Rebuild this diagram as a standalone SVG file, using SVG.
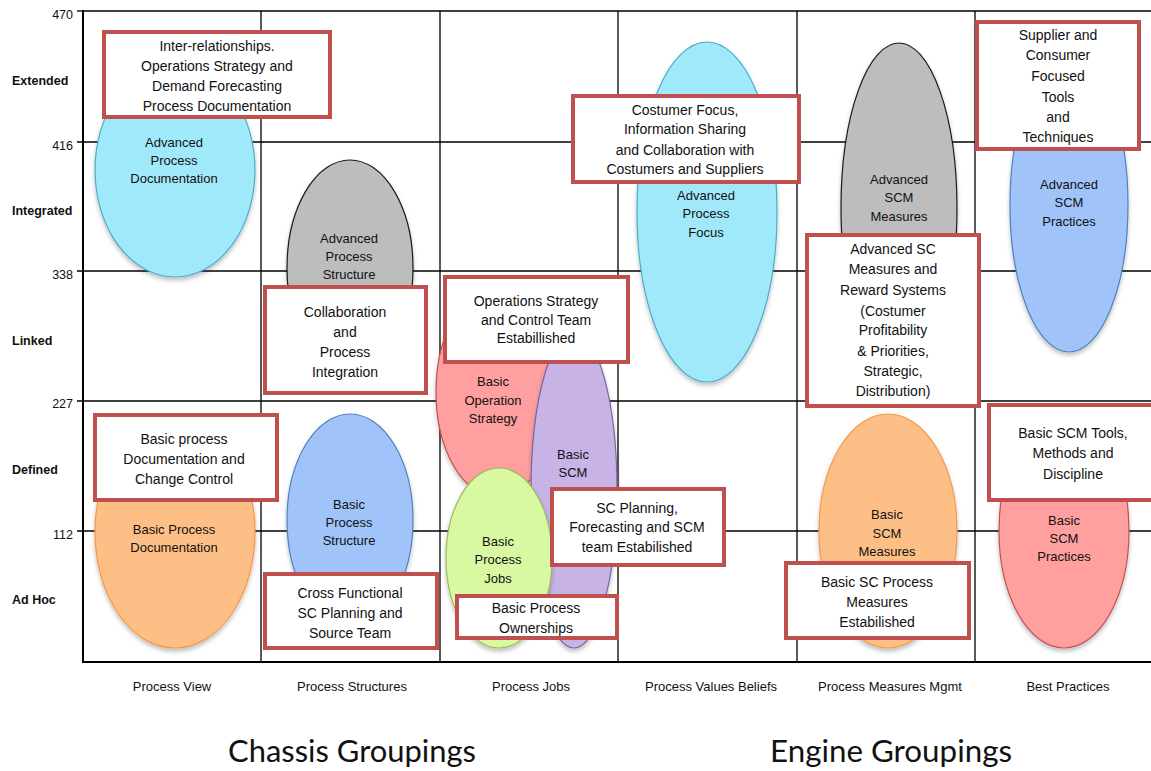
<svg xmlns="http://www.w3.org/2000/svg" width="1151" height="771" viewBox="0 0 1151 771">
<style>
  text { font-family: "Liberation Sans", Arial, sans-serif; fill: #111; text-anchor: middle; dominant-baseline: central; }
  .grid { stroke: #000; stroke-width: 1.3; fill: none; }
  .axis { stroke: #000; stroke-width: 2; fill: none; }
  .num { font-size: 12.5px; text-anchor: end; }
  .row { font-size: 12.5px; font-weight: bold; text-anchor: start; }
  .col { font-size: 13px; }
  .el { font-size: 13px; }
  .bx { font-size: 14px; }
  .box { fill: #fff; stroke: #C0504D; stroke-width: 4; }
  .cyan { fill: #A0E9FB; stroke: #4BACC6; stroke-width: 1.2; filter: url(#sh); }
  .gray { fill: #BDBDBD; stroke: #1a1a1a; stroke-width: 1.2; filter: url(#sh); }
  .orange { fill: #FDBF85; stroke: #F79646; stroke-width: 1.2; filter: url(#sh); }
  .blue { fill: #A0C3F9; stroke: #4F81BD; stroke-width: 1.2; filter: url(#sh); }
  .pink { fill: #FF9F9F; stroke: #C0504D; stroke-width: 1.2; filter: url(#sh); }
  .purple { fill: #C7B3E6; stroke: #8064A2; stroke-width: 1.2; filter: url(#sh); }
  .green { fill: #D8F8A2; stroke: #9BBB59; stroke-width: 1.2; filter: url(#sh); }
  .big { font-family: Lato, "Liberation Sans", sans-serif; font-size: 31px; text-anchor: start; dominant-baseline: alphabetic; }
</style>
<defs>
  <filter id="sh" x="-20%" y="-20%" width="140%" height="140%">
    <feDropShadow dx="0" dy="3" stdDeviation="2" flood-color="#000" flood-opacity="0.25"/>
  </filter>
</defs>
<rect width="1151" height="771" fill="#fff"/>

<g id="grid">
  <line class="grid" x1="83" y1="11" x2="1151" y2="11"/>
  <line class="grid" x1="77" y1="142" x2="1151" y2="142"/>
  <line class="grid" x1="77" y1="271" x2="1151" y2="271"/>
  <line class="grid" x1="77" y1="401" x2="1151" y2="401"/>
  <line class="grid" x1="77" y1="531" x2="1151" y2="531"/>
  <line class="grid" x1="77" y1="11" x2="83" y2="11"/>
  <line class="grid" x1="261" y1="11" x2="261" y2="662"/>
  <line class="grid" x1="440" y1="11" x2="440" y2="662"/>
  <line class="grid" x1="618" y1="11" x2="618" y2="662"/>
  <line class="grid" x1="797" y1="11" x2="797" y2="662"/>
  <line class="grid" x1="975" y1="11" x2="975" y2="662"/>
  <line class="axis" x1="83" y1="10" x2="83" y2="662"/>
  <line class="axis" x1="82" y1="662" x2="1151" y2="662"/>
</g>

<g id="axis-labels">
  <text class="num" x="73" y="15">470</text>
  <text class="num" x="73" y="146">416</text>
  <text class="num" x="73" y="275">338</text>
  <text class="num" x="73" y="404">227</text>
  <text class="num" x="73" y="535">112</text>
  <text class="row" x="12" y="81">Extended</text>
  <text class="row" x="12" y="211">Integrated</text>
  <text class="row" x="12" y="341">Linked</text>
  <text class="row" x="12" y="470">Defined</text>
  <text class="row" x="12" y="600">Ad Hoc</text>
  <text class="col" x="172" y="686">Process View</text>
  <text class="col" x="352" y="686">Process Structures</text>
  <text class="col" x="531" y="686">Process Jobs</text>
  <text class="col" x="711" y="686">Process Values Beliefs</text>
  <text class="col" x="890" y="686">Process Measures Mgmt</text>
  <text class="col" x="1068" y="686">Best Practices</text>
</g>

<g id="adv-process-documentation">
  <ellipse class="cyan" cx="175" cy="170" rx="80" ry="107"/>
  <text class="el" x="174" y="142">Advanced</text>
  <text class="el" x="174" y="160">Process</text>
  <text class="el" x="174" y="178">Documentation</text>
</g>
<g id="adv-process-structure">
  <ellipse class="gray" cx="350" cy="268" rx="63" ry="108"/>
  <text class="el" x="349" y="238">Advanced</text>
  <text class="el" x="349" y="256">Process</text>
  <text class="el" x="349" y="274">Structure</text>
</g>
<g id="basic-process-documentation">
  <ellipse class="orange" cx="175" cy="532" rx="80" ry="116"/>
  <text class="el" x="174" y="529">Basic Process</text>
  <text class="el" x="174" y="547">Documentation</text>
</g>
<g id="basic-process-structure">
  <ellipse class="blue" cx="350" cy="520" rx="63" ry="106"/>
  <text class="el" x="349" y="504">Basic</text>
  <text class="el" x="349" y="522">Process</text>
  <text class="el" x="349" y="540">Structure</text>
</g>
<g id="basic-operation-strategy">
  <ellipse class="pink" cx="497" cy="392" rx="61" ry="105"/>
  <text class="el" x="493" y="381">Basic</text>
  <text class="el" x="493" y="400">Operation</text>
  <text class="el" x="493" y="418">Strategy</text>
</g>
<g id="basic-scm">
  <ellipse class="purple" cx="574" cy="490" rx="43" ry="158"/>
  <text class="el" x="573" y="454">Basic</text>
  <text class="el" x="573" y="472">SCM</text>
</g>
<g id="basic-process-jobs">
  <ellipse class="green" cx="499" cy="558" rx="53" ry="90"/>
  <text class="el" x="498" y="541">Basic</text>
  <text class="el" x="498" y="559">Process</text>
  <text class="el" x="498" y="578">Jobs</text>
</g>
<g id="adv-process-focus">
  <ellipse class="cyan" cx="707" cy="212" rx="70" ry="170"/>
  <text class="el" x="706" y="195">Advanced</text>
  <text class="el" x="706" y="213">Process</text>
  <text class="el" x="706" y="232">Focus</text>
</g>
<g id="adv-scm-measures">
  <ellipse class="gray" cx="899" cy="208" rx="58" ry="165"/>
  <text class="el" x="899" y="179">Advanced</text>
  <text class="el" x="899" y="197">SCM</text>
  <text class="el" x="899" y="216">Measures</text>
</g>
<g id="adv-scm-practices">
  <ellipse class="blue" cx="1069" cy="205" rx="59" ry="147"/>
  <text class="el" x="1069" y="184">Advanced</text>
  <text class="el" x="1069" y="202">SCM</text>
  <text class="el" x="1069" y="221">Practices</text>
</g>
<g id="basic-scm-measures">
  <ellipse class="orange" cx="888" cy="531" rx="69" ry="117"/>
  <text class="el" x="887" y="514">Basic</text>
  <text class="el" x="887" y="533">SCM</text>
  <text class="el" x="887" y="551">Measures</text>
</g>
<g id="basic-scm-practices">
  <ellipse class="pink" cx="1064" cy="531" rx="65" ry="117"/>
  <text class="el" x="1064" y="520">Basic</text>
  <text class="el" x="1064" y="538">SCM</text>
  <text class="el" x="1064" y="556">Practices</text>
</g>

<g id="box-inter-relationships">
  <rect class="box" x="104" y="32" width="226" height="85"/>
  <text class="bx" x="217" y="46">Inter-relationships.</text>
  <text class="bx" x="217" y="66">Operations Strategy and</text>
  <text class="bx" x="217" y="86">Demand Forecasting</text>
  <text class="bx" x="217" y="106">Process Documentation</text>
</g>
<g id="box-collaboration">
  <rect class="box" x="265" y="287" width="161" height="106"/>
  <text class="bx" x="345" y="312">Collaboration</text>
  <text class="bx" x="345" y="332">and</text>
  <text class="bx" x="345" y="352">Process</text>
  <text class="bx" x="345" y="372">Integration</text>
</g>
<g id="box-ops-strategy-team">
  <rect class="box" x="445" y="277" width="183" height="85"/>
  <text class="bx" x="536" y="301">Operations Strategy</text>
  <text class="bx" x="536" y="320">and Control Team</text>
  <text class="bx" x="536" y="338">Estabillished</text>
</g>
<g id="box-costumer-focus">
  <rect class="box" x="573" y="96" width="226" height="86"/>
  <text class="bx" x="685" y="110">Costumer Focus,</text>
  <text class="bx" x="685" y="129">Information Sharing</text>
  <text class="bx" x="685" y="150">and Collaboration with</text>
  <text class="bx" x="685" y="169">Costumers and Suppliers</text>
</g>
<g id="box-supplier-consumer">
  <rect class="box" x="977" y="22" width="162" height="127"/>
  <text class="bx" x="1058" y="35">Supplier and</text>
  <text class="bx" x="1058" y="55">Consumer</text>
  <text class="bx" x="1058" y="76">Focused</text>
  <text class="bx" x="1058" y="97">Tools</text>
  <text class="bx" x="1058" y="117">and</text>
  <text class="bx" x="1058" y="137">Techniques</text>
</g>
<g id="box-advanced-sc-measures">
  <rect class="box" x="807" y="235" width="172" height="171"/>
  <text class="bx" x="893" y="249">Advanced SC</text>
  <text class="bx" x="893" y="269">Measures and</text>
  <text class="bx" x="893" y="290">Reward Systems</text>
  <text class="bx" x="893" y="311">(Costumer</text>
  <text class="bx" x="893" y="330">Profitability</text>
  <text class="bx" x="893" y="351">&amp; Priorities,</text>
  <text class="bx" x="893" y="371">Strategic,</text>
  <text class="bx" x="893" y="391">Distribution)</text>
</g>
<g id="box-basic-process-doc">
  <rect class="box" x="95" y="415" width="182" height="85"/>
  <text class="bx" x="184" y="439">Basic process</text>
  <text class="bx" x="184" y="459">Documentation and</text>
  <text class="bx" x="184" y="479">Change Control</text>
</g>
<g id="box-cross-functional">
  <rect class="box" x="265" y="574" width="172" height="74"/>
  <text class="bx" x="350" y="593">Cross Functional</text>
  <text class="bx" x="350" y="613">SC Planning and</text>
  <text class="bx" x="350" y="633">Source Team</text>
</g>
<g id="box-ownerships">
  <rect class="box" x="457" y="596" width="160" height="42"/>
  <text class="bx" x="536" y="608">Basic Process</text>
  <text class="bx" x="536" y="628">Ownerships</text>
</g>
<g id="box-sc-planning">
  <rect class="box" x="552" y="489" width="172" height="76"/>
  <text class="bx" x="637" y="508">SC Planning,</text>
  <text class="bx" x="637" y="527">Forecasting and SCM</text>
  <text class="bx" x="637" y="547">team Estabilished</text>
</g>
<g id="box-basic-sc-process">
  <rect class="box" x="786" y="563" width="183" height="75"/>
  <text class="bx" x="877" y="582">Basic SC Process</text>
  <text class="bx" x="877" y="602">Measures</text>
  <text class="bx" x="877" y="622">Estabilished</text>
</g>
<g id="box-basic-scm-tools">
  <rect class="box" x="989" y="405" width="180" height="95"/>
  <text class="bx" x="1073" y="433">Basic SCM Tools,</text>
  <text class="bx" x="1073" y="453">Methods and</text>
  <text class="bx" x="1073" y="474">Discipline</text>
</g>

<g id="group-labels">
  <text class="big" x="228" y="762" textLength="248" lengthAdjust="spacingAndGlyphs">Chassis Groupings</text>
  <text class="big" x="770" y="762" textLength="242" lengthAdjust="spacingAndGlyphs">Engine Groupings</text>
</g>
</svg>
